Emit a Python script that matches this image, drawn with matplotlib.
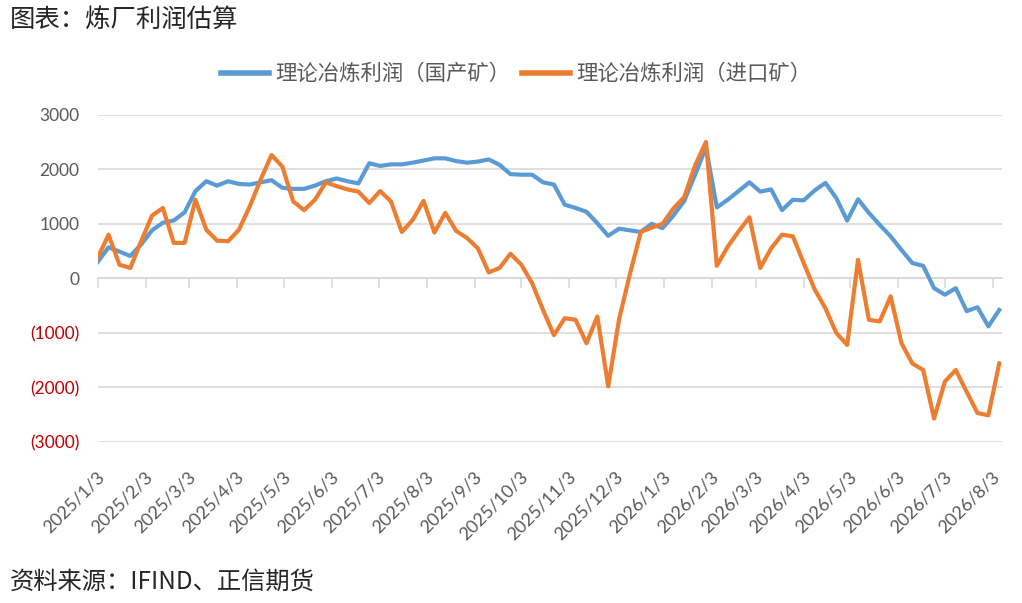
import matplotlib
matplotlib.use("Agg")
import matplotlib.pyplot as plt
import matplotlib.transforms as mtransforms
import pandas as pd

plt.rcParams['font.family'] = ['Noto Sans CJK SC', 'DejaVu Sans']

# ---- data ----
start_date = "2025-01-03"
n_weeks = 84
series_names = ["理论冶炼利润（国产矿）", "理论冶炼利润（进口矿）"]
domestic = [300, 570, 490, 410, 620, 880, 1020, 1060, 1210, 1600,
            1780, 1700, 1780, 1730, 1720, 1760, 1800, 1660, 1640, 1640,
            1700, 1780, 1830, 1780, 1740, 2110, 2060, 2090, 2090, 2120,
            2160, 2200, 2200, 2150, 2120, 2140, 2180, 2080, 1910, 1900,
            1900, 1760, 1720, 1350, 1290, 1220, 1010, 780, 910, 880,
            850, 1000, 920, 1150, 1420, 1900, 2400, 1300, 1440, 1600,
            1760, 1590, 1630, 1250, 1440, 1430, 1610, 1750, 1470, 1060,
            1450, 1200, 980, 770, 520, 280, 230, -180, -300, -180,
            -600, -530, -880, -580]
imported = [380, 800, 250, 190, 680, 1150, 1290, 650, 650, 1440,
            890, 690, 680, 890, 1320, 1810, 2260, 2050, 1410, 1250,
            1440, 1760, 1690, 1630, 1590, 1380, 1600, 1410, 850, 1070,
            1420, 840, 1200, 870, 740, 550, 110, 190, 450, 250,
            -90, -580, -1040, -730, -760, -1190, -700, -1980, -750, 80,
            850, 930, 1000, 1280, 1490, 2070, 2500, 230, 580, 860,
            1120, 190, 550, 800, 770, 280, -200, -550, -1000, -1220,
            340, -760, -790, -330, -1190, -1560, -1680, -2570, -1890, -1680,
            -2080, -2470, -2510, -1560]
y_ticks = [-3000, -2000, -1000, 0, 1000, 2000, 3000]
tick_start, tick_end = "2025-01-03", "2026-08-03"
title = "图表：炼厂利润估算"
source = "资料来源：IFIND、正信期货"

dates = pd.date_range(start_date, periods=n_weeks, freq="7D")
month_ticks = pd.date_range(tick_start, tick_end, freq=pd.DateOffset(months=1))
month_labels = [f"{d.year}/{d.month}/{d.day}" for d in month_ticks]

# ---- figure ----
fig = plt.figure(figsize=(10.22, 6.03), dpi=100)
ax = fig.add_axes([0.0956, 0.267, 0.8844, 0.5428])

blue = "#5B9BD5"
orange = "#ED7D31"
ax.plot(dates, domestic, color=blue, lw=3.0, label=series_names[0], zorder=3,
        solid_joinstyle="round")
ax.plot(dates, imported, color=orange, lw=3.0, label=series_names[1], zorder=4,
        solid_joinstyle="round")

ax.set_xlim(pd.Timestamp(tick_start), pd.Timestamp(tick_start) + pd.Timedelta(days=582.5))
ax.set_ylim(-3000, 3000)

grid_c = "#D9D9D9"
ax.set_yticks(y_ticks, [f"({abs(v)})" if v < 0 else f"{v}" for v in y_ticks])
ax.yaxis.grid(True, color=grid_c, lw=1.2)
ax.set_axisbelow(True)
ax.tick_params(axis='y', length=0, pad=13, labelsize=12.5)
for lbl, v in zip(ax.get_yticklabels(), y_ticks):
    lbl.set_color("#C00000" if v < 0 else "#595959")
    lbl.set_fontfamily(['Lato', 'DejaVu Sans'])

for s in ["left", "right", "top"]:
    ax.spines[s].set_visible(False)
ax.spines["bottom"].set_position(("data", 0))
ax.spines["bottom"].set_color(grid_c)
ax.spines["bottom"].set_linewidth(1.2)
ax.set_xticks(month_ticks)
ax.tick_params(axis='x', length=7, width=1.2, color=grid_c, direction='out',
               labelbottom=False)

sec = ax.secondary_xaxis('bottom')
sec.set_xticks(month_ticks, month_labels)
sec.spines["bottom"].set_visible(False)
sec.tick_params(axis='x', length=0, pad=23, labelsize=13, labelcolor="#595959")
offset = mtransforms.ScaledTranslation(4 / 100, 0, fig.dpi_scale_trans)
for lbl in sec.get_xticklabels():
    lbl.set_rotation(45)
    lbl.set_ha('right')
    lbl.set_va('center')
    lbl.set_rotation_mode('anchor')
    lbl.set_fontfamily(['Lato', 'DejaVu Sans'])
    lbl.set_transform(lbl.get_transform() + offset)

leg = fig.legend(loc='center', bbox_to_anchor=(0.505, 0.877), ncol=2, frameon=False,
                 fontsize=15.4, handlelength=2.25, handletextpad=0.3,
                 columnspacing=0.55)
for t in leg.get_texts():
    t.set_color("#595959")
for h in leg.get_lines():
    h.set_linewidth(4)

fig.text(0.01, 0.965, title, fontsize=18.3, color="#262626", ha='left', va='center')
fig.text(0.01, 0.035, source, fontsize=17.5, color="#262626", ha='left', va='center')

fig.savefig("out.png", dpi=100)
